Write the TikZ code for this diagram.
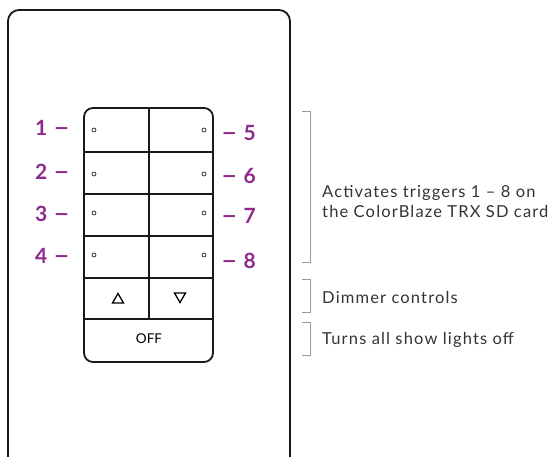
\documentclass[tikz,border=0pt]{standalone}
\usepackage{fontspec}
\setmainfont{Lato}
\newfontfamily\descfont[LetterSpace=7]{Lato}
\definecolor{lbl}{HTML}{8E2A8C}
\definecolor{txt}{HTML}{333333}
\definecolor{brk}{HTML}{9A9A9A}
\newcommand{\kdash}{\scalebox{1.35}[1.1]{–}}
\begin{document}
\begin{tikzpicture}[x=1pt,y=-1pt,
  keyline/.style={line width=1.8pt,draw=black!90},
  num/.style={text=lbl,font=\fontsize{21}{24}\selectfont\bfseries,inner sep=0pt},
  desc/.style={text=txt,font=\descfont\fontsize{16.5}{20}\selectfont,inner sep=0pt,anchor=west,align=left},
  brack/.style={draw=brk,line width=0.8pt},
  led/.style={circle,draw=black,line width=0.6pt,minimum size=4pt,inner sep=0pt}]
\useasboundingbox (0,0) rectangle (556,456);
\begin{scope}
\clip (0,0) rectangle (556,456);
\draw[keyline,rounded corners=11] (8,10) rectangle (290,472);
\end{scope}
% keypad
\draw[keyline,rounded corners=9] (84,108) rectangle (213,362);
\foreach \y in {152,194,236,278,319} \draw[keyline] (84,\y) -- (213,\y);
\draw[keyline] (149,108) -- (149,319);
% leds
\foreach \y/\n in {130/a,174/b,213/c,255/d} {
  \node[led] (l\n) at (94,\y) {};
  \node[led] (r\n) at (204,\y) {};
}
% arrows
\draw[line width=1.3pt,line join=miter] (112.5,303) -- (123.5,303) -- (118,293.5) -- cycle;
\draw[line width=1.3pt,line join=miter] (174.5,293) -- (185.5,293) -- (180,302.5) -- cycle;
\node[font=\fontsize{13.5}{15}\selectfont,text=black,inner sep=0pt] (off) at (149,339) {OFF};
% number labels
\node[num,anchor=east] (n1) at (70,128) {1\hspace{6pt}\kdash};
\node[num,anchor=east] (n2) at (70,172) {2\hspace{6pt}\kdash};
\node[num,anchor=east] (n3) at (70,214) {3\hspace{6pt}\kdash};
\node[num,anchor=east] (n4) at (70,255.5) {4\hspace{6pt}\kdash};
\node[num,anchor=west] (n5) at (221,133) {\kdash\hspace{6pt}5};
\node[num,anchor=west] (n6) at (221,176) {\kdash\hspace{6pt}6};
\node[num,anchor=west] (n7) at (221,216) {\kdash\hspace{6pt}7};
\node[num,anchor=west] (n8) at (221,260.5) {\kdash\hspace{6pt}8};
% brackets
\coordinate (b1t) at (302,111); \coordinate (b1b) at (302,262);
\coordinate (b2t) at (302,279); \coordinate (b2b) at (302,312);
\coordinate (b3t) at (302,322); \coordinate (b3b) at (302,355);
\draw[brack] (b1t) -- ++(8,0) |- (b1b);
\draw[brack] (b2t) -- ++(8,0) |- (b2b);
\draw[brack] (b3t) -- ++(8,0) |- (b3b);
% descriptions
\node[desc] (d1) at (322,202) {Activates triggers 1 – 8 on\\the ColorBlaze TRX SD card};
\node[desc] (d2) at (322,297) {Dimmer controls};
\node[desc] (d3) at (322,340) {Turns all show lights off};
\end{tikzpicture}
\end{document}
